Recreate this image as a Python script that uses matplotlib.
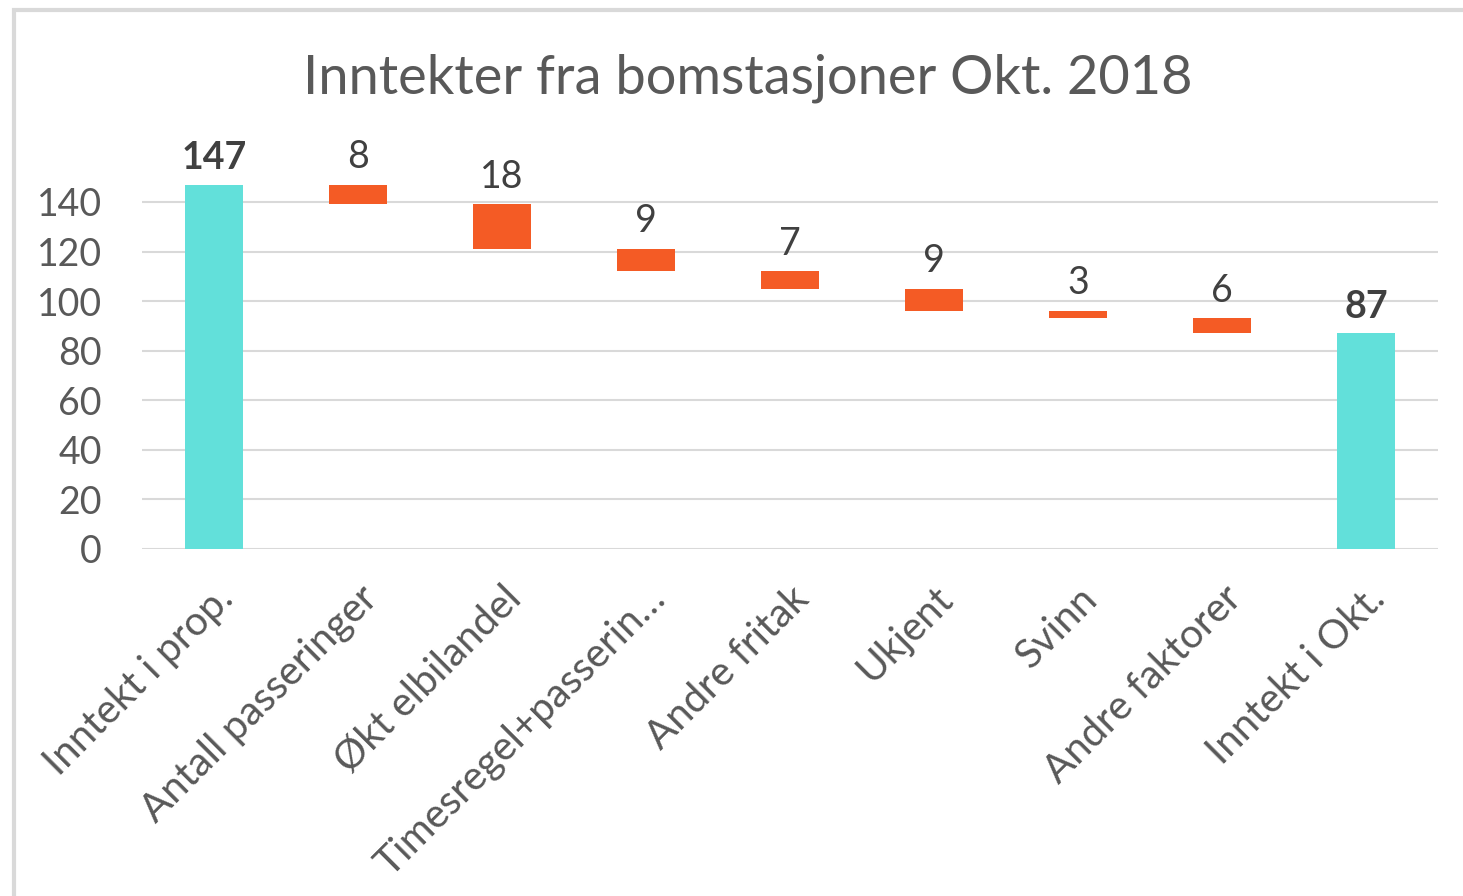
import matplotlib.pyplot as plt
from matplotlib.patches import Rectangle

# Data for the waterfall
categories = ['Inntekt i prop.', 'Antall passeringer', 'Økt elbilandel',
              'Timesregel+passerin…', 'Andre fritak', 'Ukjent', 'Svinn',
              'Andre faktorer', 'Inntekt i Okt.']
start_value = 147
changes = [8, 18, 9, 7, 9, 3, 6]
end_value = 87
yticks = [0, 20, 40, 60, 80, 100, 120, 140]

teal = '#62E0DA'
orange = '#F45B25'
text_gray = '#595959'
label_gray = '#404040'

plt.rcParams['font.family'] = ['Lato', 'DejaVu Sans']

fig = plt.figure(figsize=(14.63, 8.96), dpi=100)
ax = fig.add_axes([0.0971, 0.3873, 0.8859, 0.4426])

# build bars: totals and decreases
bottoms = [0]
heights = [start_value]
colors = [teal]
level = start_value
for c in changes:
    level -= c
    bottoms.append(level)
    heights.append(c)
    colors.append(orange)
bottoms.append(0)
heights.append(end_value)
colors.append(teal)

x = list(range(len(categories)))
ax.bar(x, heights, bottom=bottoms, width=0.4, color=colors, zorder=3)

# data labels
labels = [start_value] + changes + [end_value]
for i, (b, h, v) in enumerate(zip(bottoms, heights, labels)):
    bold = i in (0, len(labels) - 1)
    ax.annotate(str(v), (i, b + h), xytext=(0, 7), textcoords='offset points',
                ha='center', va='bottom', fontsize=27, color=label_gray,
                fontweight='bold' if bold else 'normal')

ax.set_xlim(-0.5, len(categories) - 0.5)
ax.set_ylim(0, 160)
ax.set_yticks(yticks)
ax.set_xticks(x)
ax.set_xticklabels(categories, rotation=45, ha='right', rotation_mode='anchor',
                   fontsize=29, color=text_gray)
ax.tick_params(axis='y', labelsize=27, labelcolor=text_gray, length=0, pad=29)
ax.tick_params(axis='x', length=0, pad=22)
ax.grid(axis='y', color='#D9D9D9', linewidth=1.5, zorder=0)
for s in ax.spines.values():
    s.set_visible(False)

fig.text(0.511, 0.913, 'Inntekter fra bomstasjoner Okt. 2018', ha='center',
         va='center', fontsize=39, color=text_gray)

# outer chart border (cropped on right and bottom)
fig.patches.append(Rectangle((14 / 1463, -0.05), 1.1, 0.05 + 1 - 10 / 896,
                             transform=fig.transFigure, fill=False,
                             edgecolor='#D9D9D9', linewidth=3))

plt.savefig('out.png', dpi=100)
plt.close()
